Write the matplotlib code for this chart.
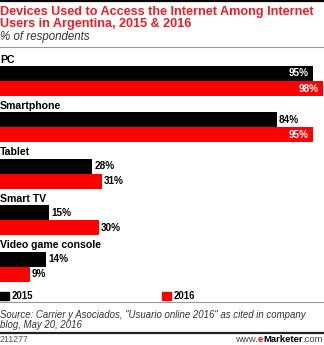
import matplotlib
matplotlib.use("Agg")
import matplotlib.pyplot as plt
from matplotlib.patches import Rectangle
from matplotlib.lines import Line2D

categories = ["PC", "Smartphone", "Tablet", "Smart TV", "Video game console"]
values_2015 = [95, 84, 28, 15, 14]
values_2016 = [98, 95, 31, 30, 9]
series_names = ["2015", "2016"]
title = "Devices Used to Access the Internet Among Internet\nUsers in Argentina, 2015 & 2016"
subtitle = "% of respondents"
source = 'Source: Carrier y Asociados, "Usuario online 2016" as cited in company\nblog, May 20, 2016'
footer_id = "211277"

W, H = 324, 345
DPI = 100
BLACK = "#000000"
RED = "#ff0000"
TITLE_RED = "#ee1c25"
FONT = "Liberation Sans"

fig = plt.figure(figsize=(W / DPI, H / DPI), dpi=DPI)
renderer = fig.canvas.get_renderer()


def fy(px):
    return 1 - px / H


def fx(px):
    return px / W


def fit_size(text, target_px, **kw):
    t = fig.text(0, 0, text, fontsize=10, **kw)
    w = t.get_window_extent(renderer=renderer).width
    t.remove()
    return 10 * target_px / w


# Axes geometry: group centre 0 at y=81px, spacing 46.4 px
unit = 46.4
top_d, bot_d = -0.62, 4.5
top_px = 81 + top_d * unit
bot_px = 81 + bot_d * unit
ax = fig.add_axes([0, fy(bot_px), 1, (bot_px - top_px) / H])
ax.set_xlim(0, 98.3)
ax.set_ylim(bot_d, top_d)
ax.axis("off")

bh = 15 / unit
ys = list(range(len(categories)))
ax.barh([y - bh / 2 for y in ys], values_2015, height=bh, color=BLACK, edgecolor="none")
ax.barh([y + bh / 2 for y in ys], values_2016, height=bh, color=RED, edgecolor="none")

lab_fs = fit_size("Smartphone", 61, family=FONT, weight="bold")
val_fs = fit_size("84%", 20, family=FONT, weight="bold")
px_per_unit = 324 / 98.3
for i, cat in enumerate(categories):
    ax.text(0, i - 0.46, cat, fontsize=lab_fs, family=FONT, weight="bold",
            color=BLACK, va="center", ha="left")
    for v, off, col in ((values_2015[i], -bh / 2, BLACK), (values_2016[i], bh / 2, RED)):
        if v > 80 and not (col == BLACK and v < 90):
            ax.text(v - 4 / px_per_unit, i + off, f"{v}%", fontsize=val_fs, family=FONT,
                    weight="bold", color="white", va="center", ha="right")
        else:
            ax.text(v + 2 / px_per_unit, i + off, f"{v}%", fontsize=val_fs, family=FONT,
                    weight="bold", color=BLACK, va="center", ha="left")

# Header
fig.add_artist(Line2D([0, 1], [fy(1), fy(1)], color=BLACK, lw=1.6))
title_fs = fit_size("Devices Used to Access the Internet Among Internet", 313,
                    family=FONT, weight="bold")
fig.text(0, fy(6.5), title, fontsize=title_fs, family=FONT, weight="bold",
         color=TITLE_RED, va="top", ha="left", linespacing=1.0)
sub_fs = fit_size(subtitle, 90, family=FONT, style="italic")
fig.text(0, fy(37), subtitle, fontsize=sub_fs, family=FONT, style="italic",
         color="#333333", va="center", ha="left")
fig.add_artist(Line2D([0, 1], [fy(46.5), fy(46.5)], color="#999999", lw=0.8))

# Legend
leg_fs = fit_size("2015", 21.5, family=FONT, weight="bold")
for x0, col, name in ((0, BLACK, series_names[0]), (162, RED, series_names[1])):
    fig.add_artist(Rectangle((fx(x0), fy(300)), fx(9), 8 / H, color=col,
                             transform=fig.transFigure))
    fig.text(fx(x0 + 11.5), fy(296), name, fontsize=leg_fs, family=FONT, weight="bold",
             color=BLACK, va="center", ha="left")

fig.add_artist(Line2D([0, 1], [fy(301.5), fy(301.5)], color="#999999", lw=0.8))
src_fs = fit_size(source.split("\n")[0], 305, family=FONT, style="italic")
fig.text(0, fy(309.5), source, fontsize=src_fs, family=FONT, style="italic",
         color="#333333", va="top", ha="left", linespacing=1.05)
fig.add_artist(Line2D([0, 1], [fy(333), fy(333)], color="#222222", lw=1.6))

fig.text(0, fy(340), footer_id, fontsize=6.3, family=FONT, color="#555555",
         va="center", ha="left")
# www.eMarketer.com right aligned
parts = [("www.", "normal", "#444444"), ("e", "bold", RED), ("Marketer", "bold", BLACK),
         (".com", "normal", "#444444")]
widths = []
for txt, wt, c in parts:
    t = fig.text(0, 0, txt, fontsize=6.8, family=FONT, weight=wt)
    widths.append(t.get_window_extent(renderer=renderer).width)
    t.remove()
x = 323 - sum(widths)
for (txt, wt, c), w in zip(parts, widths):
    fig.text(fx(x), fy(340), txt, fontsize=6.8, family=FONT, weight=wt, color=c,
             va="center", ha="left")
    x += w

fig.savefig("out.png", dpi=DPI)
